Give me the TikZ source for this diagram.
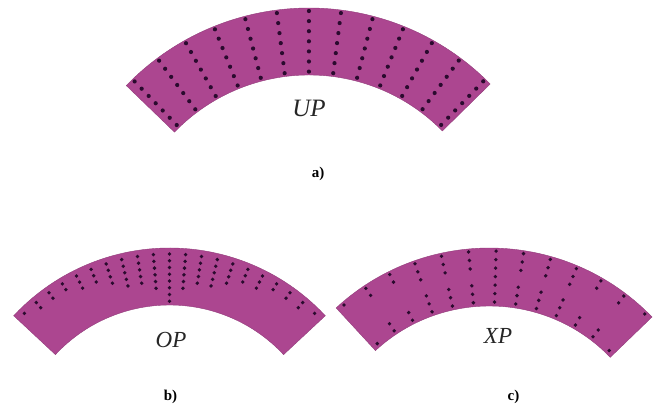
\documentclass[tikz,border=0pt]{standalone}
\usepackage{fontspec}
\setmainfont{Liberation Serif}
\definecolor{ringfill}{HTML}{AC4690}
\definecolor{poledot}{HTML}{2A0A2E}
\tikzset{
  ring/.style     = {fill=ringfill, draw=ringfill!85!black, line width=0.4pt},
  pole/.style     = {fill=poledot},
  typelabel/.style = {font=\itshape\fontsize{23}{23}\selectfont, text=black!85},
  caselabel/.style = {font=\bfseries\fontsize{15}{15}\selectfont},
}
% outer radius, inner radius, start angle, end angle
\newcommand{\ringsector}[4]{%
  \path[ring] (#3:#1) arc[start angle=#3, end angle=#4, radius=#1]
    -- (#4:#2) arc[start angle=#4, end angle=#3, radius=#2] -- cycle;
}
\begin{document}
\begin{tikzpicture}[x=1pt, y=1pt]
  \useasboundingbox (0,0) rectangle (656,407);

  % UP
  \begin{scope}[shift={(309,145)}]
    \ringsector{254}{187}{44.5}{136}
    \foreach \k in {0,...,12}
      \foreach \i in {0,...,6}
        \fill[pole] ({134-7.33*\k}:{251-10.1*\i}) circle (2.1);
  \end{scope}
  \node[typelabel, font=\itshape\fontsize{25}{25}\selectfont] (up) at (309,299) {UP};
  \node[caselabel] (capa) at (318,233) {a)};

  % OP
  \begin{scope}[shift={(169.5,-54)}]
    \ringsector{213}{156}{43}{137}
    \foreach \n [count=\k from 0] in {1,2,2,2,3,3,4,5,5,6,8,6,5,5,4,3,3,2,2,2,1} {
      \pgfmathsetmacro{\ang}{134.5-4.45*\k}
      \foreach \i in {1,...,\n}
        \fill[pole] (\ang:{207-6.76*(\i-1)}) circle (1.9);
    }
  \end{scope}
  \node[typelabel] (op) at (171,67) {OP};
  \node[caselabel] (capb) at (170.5,10) {b)};

  % XP
  \begin{scope}[shift={(489.4,-67)}]
    \ringsector{226}{168}{44}{132.7}
    \foreach \k/\places in {0/{0,6}, 1/{0,1,5,6}, 2/{0,1,5,6}, 3/{0,1,2,4,5,6},
        4/{0,1,2,4,5,6}, 5/{0,1,2,4,5,6}, 6/{0,1,2,3,4,5,6}, 7/{0,1,2,4,5,6},
        8/{0,1,2,4,5,6}, 9/{0,1,2,4,5,6}, 10/{0,1,5,6}, 11/{0,1,5,6}, 12/{0,6}}
      \foreach \i in \places
        \fill[pole] ({130.7-7.07*\k}:{223-8.5*\i}) circle (1.9);
  \end{scope}
  \node[typelabel] (xp) at (498,71) {XP};
  \node[caselabel] (capc) at (513.5,10) {c)};
\end{tikzpicture}
\end{document}
